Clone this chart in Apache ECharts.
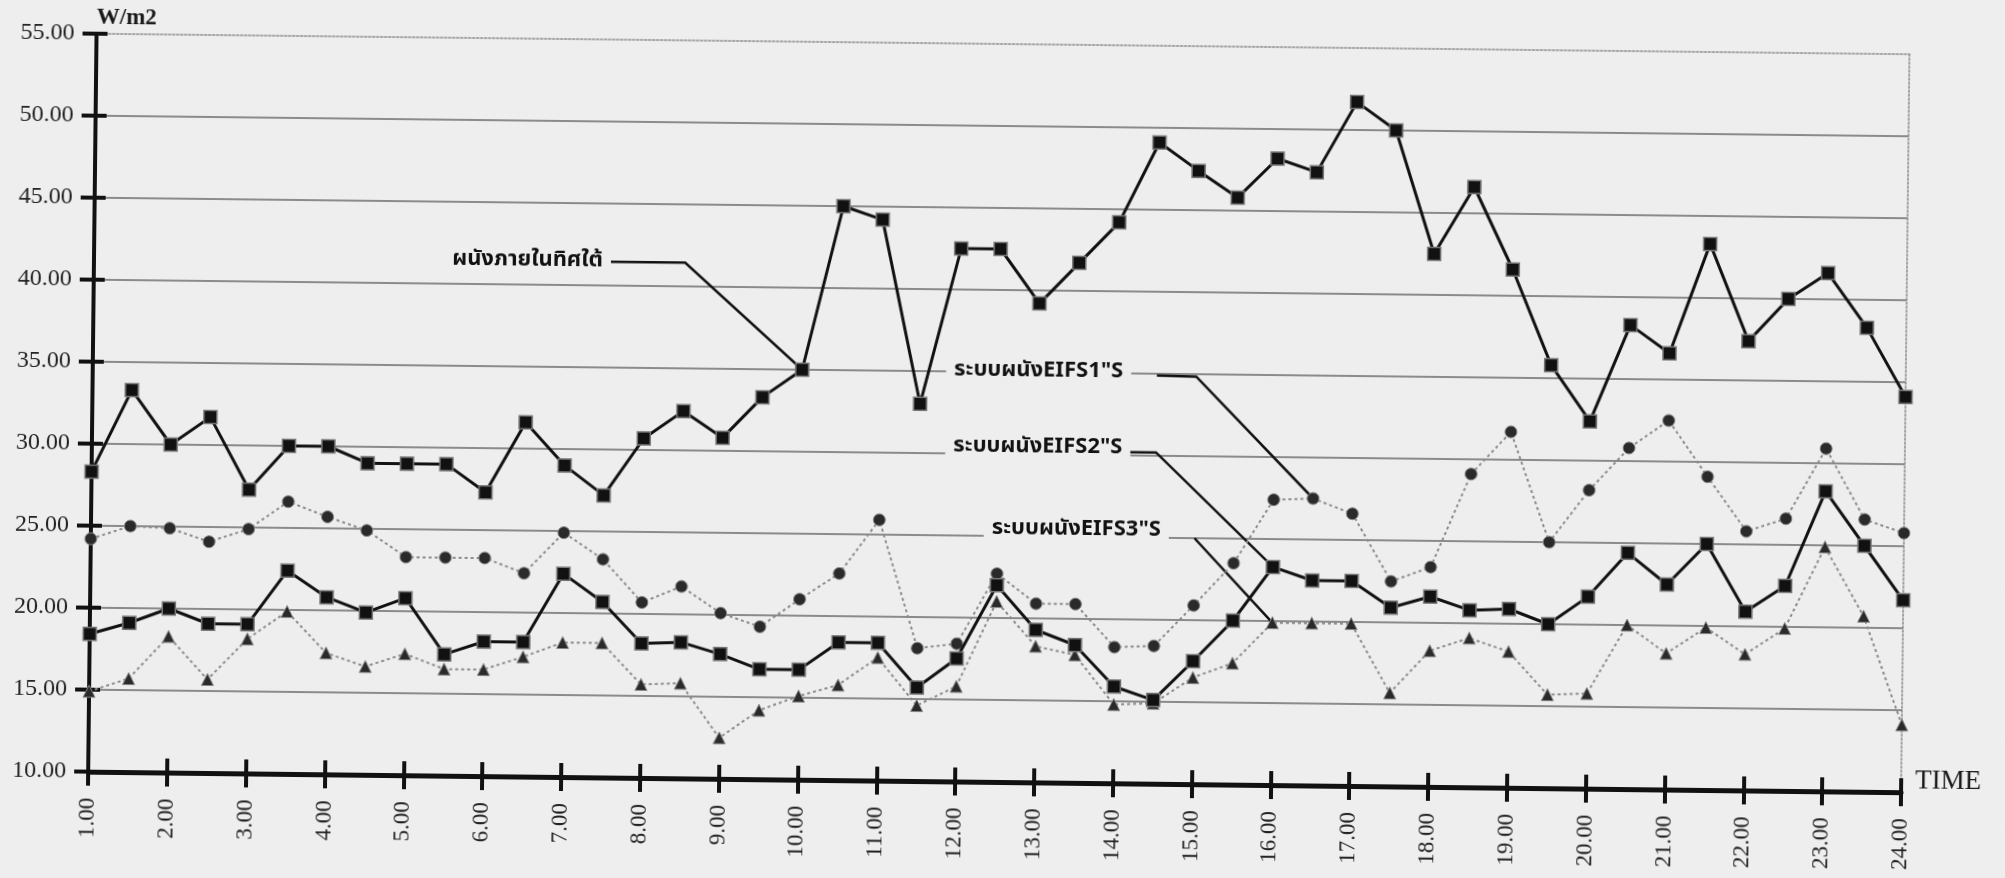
<!DOCTYPE html>
<html>
<head>
<meta charset="utf-8">
<script src="https://cdn.jsdelivr.net/npm/echarts@6/dist/echarts.min.js"></script>
<style>
  html, body { margin: 0; padding: 0; background: #eeeeee; overflow: hidden; }
  #chart { width: 2005px; height: 878px; transform: rotate(0.65deg); transform-origin: 50% 50%; }
</style>
</head>
<body>
<div id="chart"></div>
<script>
// Half-hourly readings, 1.00 to 24.00
const times = ['1.00','1.30','2.00','2.30','3.00','3.30','4.00','4.30','5.00','5.30',
  '6.00','6.30','7.00','7.30','8.00','8.30','9.00','9.30','10.00','10.30',
  '11.00','11.30','12.00','12.30','13.00','13.30','14.00','14.30','15.00','15.30',
  '16.00','16.30','17.00','17.30','18.00','18.30','19.00','19.30','20.00','20.30',
  '21.00','21.30','22.00','22.30','23.00','23.30','24.00'];

// Heat flux through each wall (W/m2)
const southWall = [28.3, 33.3, 30.0, 31.7, 27.3, 30.0, 30.0, 29.0, 29.0, 29.0,
  27.3, 31.6, 29.0, 27.2, 30.7, 32.4, 30.8, 33.3, 35.0, 45.0,
  44.2, 33.0, 42.5, 42.5, 39.2, 41.7, 44.2, 49.1, 47.4, 45.8,
  48.2, 47.4, 51.7, 50.0, 42.5, 46.6, 41.6, 35.8, 32.4, 38.3,
  36.6, 43.3, 37.4, 40.0, 41.6, 38.3, 34.1];
const eifs1 = [24.2, 25.0, 24.9, 24.1, 24.9, 26.6, 25.7, 24.9, 23.3, 23.3,
  23.3, 22.4, 24.9, 23.3, 20.7, 21.7, 20.1, 19.3, 21.0, 22.6,
  25.9, 18.1, 18.4, 22.7, 20.9, 20.9, 18.3, 18.4, 20.9, 23.5,
  27.4, 27.5, 26.6, 22.5, 23.4, 29.1, 31.7, 25.0, 28.2, 30.8,
  32.5, 29.1, 25.8, 26.6, 30.9, 26.6, 25.8];
const eifs2 = [18.4, 19.1, 20.0, 19.1, 19.1, 22.4, 20.8, 19.9, 20.8, 17.4,
  18.2, 18.2, 22.4, 20.7, 18.2, 18.3, 17.6, 16.7, 16.7, 18.4,
  18.4, 15.7, 17.5, 22.0, 19.3, 18.4, 15.9, 15.1, 17.5, 20.0,
  23.3, 22.5, 22.5, 20.9, 21.6, 20.8, 20.9, 20.0, 21.7, 24.4,
  22.5, 25.0, 20.9, 22.5, 28.3, 25.0, 21.7];
const eifs3 = [14.9, 15.7, 18.3, 15.7, 18.2, 19.9, 17.4, 16.6, 17.4, 16.5,
  16.5, 17.3, 18.2, 18.2, 15.7, 15.8, 12.5, 14.2, 15.1, 15.8,
  17.5, 14.6, 15.8, 21.0, 18.3, 17.8, 14.8, 14.9, 16.5, 17.4,
  19.9, 19.9, 19.9, 15.7, 18.3, 19.1, 18.3, 15.7, 15.8, 20.0,
  18.3, 19.9, 18.3, 19.9, 24.9, 20.7, 14.1];

const seriesNames = ['ผนังภายในทิศใต้', 'ระบบผนังEIFS1"S', 'ระบบผนังEIFS2"S', 'ระบบผนังEIFS3"S'];
const yMin = 10, yMax = 55, yStep = 5;

// Callout labels: text centre, leader start, leader bend (in category index / value units), target point index
const callouts = [
  { series: 0, text: [11.0, 41.4], from: [13.45, 41.45], bend: [15.3, 41.45], target: 18 },
  { series: 1, text: [24.1, 35.0], from: [26.8, 34.9], bend: [28.0, 34.85], target: 31 },
  { series: 2, text: [23.6, 30.4], from: [26.3, 30.2], bend: [27.1, 30.2], target: 30 },
  { series: 3, text: [25.4, 25.4], from: [27.6, 25.0], bend: [27.7, 25.0], target: 30 }
];

const serif = '"Liberation Serif", "Times New Roman", serif';
const thaiFont = '"Noto Sans Thai", "Noto Sans", "DejaVu Sans", sans-serif';
const bg = '#eeeeee';

const chart = echarts.init(document.getElementById('chart'), null, { renderer: 'canvas' });

// split line colours: hide the ones under the x axis and the top border
const splitColors = [];
for (let v = yMin; v <= yMax; v += yStep) {
  splitColors.push(v === yMin || v === yMax ? 'rgba(0,0,0,0)' : '#6a6a6a');
}

const blackLine = (name, data) => ({
  name, type: 'line', data,
  symbol: 'rect', symbolSize: 13,
  lineStyle: { color: '#111', width: 3 },
  itemStyle: { color: '#111', borderColor: '#777', borderWidth: 1.5 },
  z: 5
});
const greyLine = (name, data, symbol, size) => ({
  name, type: 'line', data,
  symbol, symbolSize: size,
  lineStyle: { color: '#8c8c8c', width: 2, type: [3, 3] },
  itemStyle: { color: '#2a2a2a', borderColor: '#888', borderWidth: 1 },
  z: 4
});

chart.setOption({
  backgroundColor: bg,
  animation: false,
  grid: { left: 92, right: 100, top: 44, bottom: 96 },
  xAxis: [
    {
      type: 'category', data: times, boundaryGap: false, position: 'bottom',
      name: 'TIME', nameLocation: 'end', nameGap: 14,
      nameTextStyle: { fontFamily: serif, fontSize: 27, color: '#1a1a1a', verticalAlign: 'bottom', lineHeight: 22 },
      axisLine: { lineStyle: { color: '#111', width: 5 } },
      axisTick: { show: true, interval: 1, length: 14, lineStyle: { color: '#111', width: 4 } },
      axisLabel: { interval: 1, rotate: 90, margin: 26, fontFamily: serif, fontSize: 23, color: '#222' },
      splitLine: { show: false }
    },
    {
      type: 'category', data: times, boundaryGap: false, position: 'bottom',
      axisLine: { show: false },
      axisTick: { show: true, inside: true, interval: 1, length: 14, lineStyle: { color: '#111', width: 4 } },
      axisLabel: { show: false }, splitLine: { show: false }
    },
    {
      type: 'category', data: times, boundaryGap: false, position: 'top',
      axisLine: { lineStyle: { color: '#888', width: 1.5, type: [2, 2] } },
      axisTick: { show: false }, axisLabel: { show: false }, splitLine: { show: false }
    }
  ],
  yAxis: [
    {
      type: 'value', min: yMin, max: yMax, interval: yStep, position: 'left',
      name: 'W/m2', nameLocation: 'end', nameGap: 4,
      nameTextStyle: { fontFamily: serif, fontSize: 23, fontWeight: 'bold', color: '#1a1a1a', align: 'left', verticalAlign: 'bottom' },
      axisLine: { show: true, lineStyle: { color: '#111', width: 4 } },
      axisTick: { show: true, length: 14, lineStyle: { color: '#111', width: 4 } },
      axisLabel: { margin: 22, fontFamily: serif, fontSize: 24, color: '#222', formatter: v => v.toFixed(2) },
      splitLine: { show: true, lineStyle: { color: splitColors, width: 1.5 } }
    },
    {
      type: 'value', min: yMin, max: yMax, interval: yStep, position: 'left',
      axisLine: { show: false },
      axisTick: { show: true, inside: true, length: 11, lineStyle: { color: '#111', width: 4 } },
      axisLabel: { show: false }, splitLine: { show: false }
    },
    {
      type: 'value', min: yMin, max: yMax, interval: yStep, position: 'right',
      axisLine: { show: true, lineStyle: { color: '#888', width: 1.5, type: [2, 2] } },
      axisTick: { show: false }, axisLabel: { show: false }, splitLine: { show: false }
    }
  ],
  series: [
    greyLine(seriesNames[1], eifs1, 'circle', 12),
    greyLine(seriesNames[3], eifs3, 'triangle', 12),
    blackLine(seriesNames[2], eifs2),
    blackLine(seriesNames[0], southWall)
  ]
});

// Callout labels with leader lines pointing at their series
const seriesData = [southWall, eifs1, eifs2, eifs3];
const px = p => chart.convertToPixel({ xAxisIndex: 0, yAxisIndex: 0 }, p);
const graphics = [];
callouts.forEach(c => {
  const t = px(c.text), a = px(c.from), b = px(c.bend);
  const end = px([c.target, seriesData[c.series][c.target]]);
  graphics.push({
    type: 'polyline', z: 3, silent: true,
    shape: { points: [a, b, end] },
    style: { stroke: '#111', lineWidth: 2.5, fill: null }
  });
  graphics.push({
    type: 'text', z: 6, silent: true, x: t[0], y: t[1],
    style: {
      text: seriesNames[c.series], fill: '#111',
      font: 'bold 22px ' + thaiFont,
      align: 'center', verticalAlign: 'middle',
      backgroundColor: bg, padding: [2, 8]
    }
  });
});
chart.setOption({ graphic: graphics });
</script>
</body>
</html>
